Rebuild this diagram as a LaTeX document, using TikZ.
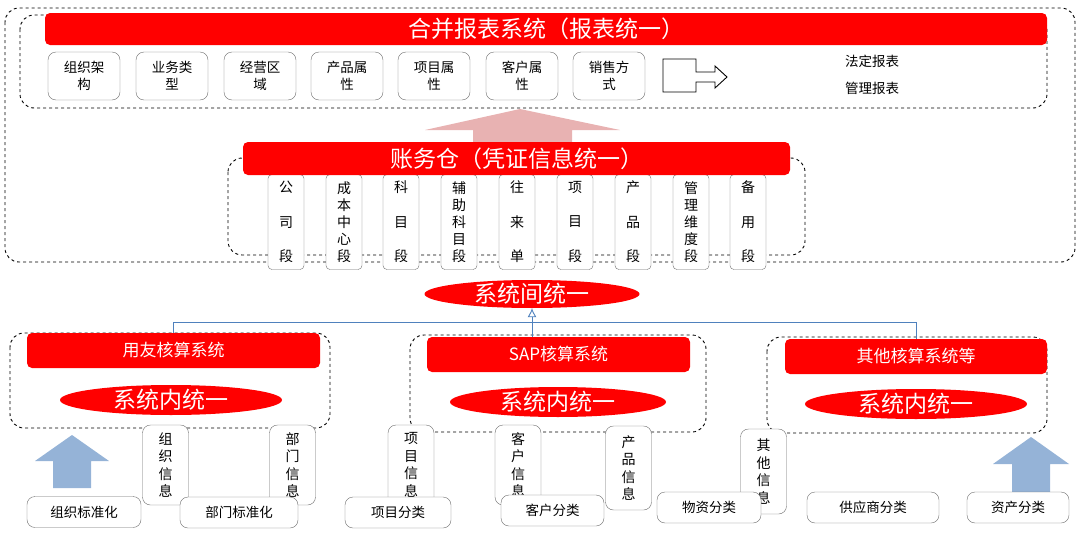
\documentclass[tikz,border=0pt]{standalone}
\usepackage{fontspec}
\setmainfont{Noto Sans CJK SC}
\usepackage{tikz}
\usetikzlibrary{shapes.geometric, arrows.meta}
\usepackage{xcolor}
\definecolor{barred}{RGB}{255,0,0}
\definecolor{boxgray}{RGB}{110,110,110}
\definecolor{lineblue}{RGB}{79,129,189}
\definecolor{arrowblue}{RGB}{149,179,215}
\definecolor{arrowpink}{RGB}{232,178,178}

\begin{document}
\begin{tikzpicture}[x=1pt, y=-1pt,
        dashbox/.style={draw, dashed, rounded corners=14pt, line width=0.9pt},
        redbar/.style={fill=barred, rounded corners=5pt, text=white, inner sep=0pt},
        redoval/.style={ellipse, fill=barred, text=white, inner sep=0pt, text height=17.4pt, text depth=0pt, font=\fontsize{23}{26}\selectfont},
        attrbox/.style={draw=boxgray, fill=white, rounded corners=8pt, minimum width=72pt, minimum height=48pt, inner sep=0pt, align=center, font=\fontsize{13.5}{17}\selectfont},
        segbox/.style={draw=boxgray, fill=white, rounded corners=4pt, minimum width=36pt, minimum height=95pt, inner sep=0pt, align=center},
        segthree/.style={segbox, font=\fontsize{14}{34.5}\selectfont},
        segfive/.style={segbox, font=\fontsize{14}{17}\selectfont},
        infobox/.style={draw=boxgray, fill=white, rounded corners=8pt, minimum width=46pt, minimum height=80pt, inner sep=0pt, align=center, font=\fontsize{14}{17.5}\selectfont},
        classbox/.style={draw=boxgray, fill=white, rounded corners=8pt, minimum height=31pt, inner sep=0pt, font=\fontsize{13.5}{16}\selectfont},
        blueline/.style={draw=lineblue, line width=0.9pt}]
    \useasboundingbox (0,0) rectangle (1080,533);

    % upper part
    \draw[dashbox] (5,8) rectangle (1075,262);
    \draw[dashbox] (20,15) rectangle (1047,108);
    \fill[arrowpink] (473,142) -- (473,130) -- (425,130) -- (520,109) -- (620,130) -- (572,130) -- (572,142) -- cycle;
    \draw[dashbox] (228,158) rectangle (805,255);

    \node[segthree] (seg1) at (286,222) {公\\司\\段};
    \node[segfive] (seg2) at (344,222) {成\\本\\中\\心\\段};
    \node[segthree] (seg3) at (401,222) {科\\目\\段};
    \node[segfive] (seg4) at (459,222) {辅\\助\\科\\目\\段};
    \node[segthree] (seg5) at (517,222) {往\\来\\单};
    \node[segthree] (seg6) at (575,222) {项\\目\\段};
    \node[segthree] (seg7) at (633,222) {产\\品\\段};
    \node[segfive] (seg8) at (691,222) {管\\理\\维\\度\\段};
    \node[segthree] (seg9) at (748,222) {备\\用\\段};

    \node[redbar, minimum width=547pt, minimum height=33pt, font=\fontsize{23}{26}\selectfont] (ledger) at (516.5,158.5) {账务仓（凭证信息统一）};
    \node[redbar, minimum width=1002pt, minimum height=32pt, font=\fontsize{23}{26}\selectfont] (report) at (546,29) {合并报表系统（报表统一）};

    \node[attrbox] (attr1) at (84,76) {组织架\\构};
    \node[attrbox] (attr2) at (172,76) {业务类\\型};
    \node[attrbox] (attr3) at (260,76) {经营区\\域};
    \node[attrbox] (attr4) at (347,76) {产品属\\性};
    \node[attrbox] (attr5) at (434,76) {项目属\\性};
    \node[attrbox] (attr6) at (522,76) {客户属\\性};
    \node[attrbox] (attr7) at (609,76) {销售方\\式};

    \draw[line width=0.9pt] (663,59) -- (696,59) -- (696,72) -- (715,72) -- (715,66) -- (727,77)
        -- (715,88) -- (715,82) -- (696,82) -- (696,92) -- (663,92) -- cycle;
    \node[font=\fontsize{13.5}{16}\selectfont] (legal) at (872,61) {法定报表};
    \node[font=\fontsize{13.5}{16}\selectfont] (mgmt) at (872,88) {管理报表};

    % lower part
    \node[redoval, minimum width=215pt, minimum height=28pt] (inter) at (532,294) {系统间统一};

    \draw[dashbox] (10,333) rectangle (330,428);
    \draw[dashbox] (410,335) rectangle (706,432);
    \draw[dashbox] (767,337) rectangle (1047,433);

    \node[redbar, minimum width=293pt, minimum height=35pt, font=\fontsize{17}{20}\selectfont] (yonyou) at (173.5,350.5) {用友核算系统};
    \node[redbar, minimum width=263pt, minimum height=35pt, font=\fontsize{17}{20}\selectfont] (sap) at (558.5,354.5) {SAP核算系统};
    \node[redbar, minimum width=262pt, minimum height=35pt, font=\fontsize{17}{20}\selectfont] (other) at (916,356.5) {其他核算系统等};

    \node[redoval, minimum width=222pt, minimum height=30pt] (intra1) at (171,400) {系统内统一};
    \node[redoval, minimum width=216pt, minimum height=30pt] (intra2) at (558,402) {系统内统一};
    \node[redoval, minimum width=222pt, minimum height=30pt] (intra3) at (916,404) {系统内统一};

    \draw[blueline] (yonyou.north) -- ++(0,-10) -| (other.north);
    \draw[blueline, -{Latex[open, length=9pt, width=9pt]}] (inter.south |- sap.north) -- (inter.south);

    \node[infobox] (info1) at (165.5,465) {组\\织\\信\\息};
    \node[infobox] (info2) at (292.5,465) {部\\门\\信\\息};
    \node[infobox] (info3) at (411,465) {项\\目\\信\\息};
    \node[infobox] (info4) at (518,465) {客\\户\\信\\息};
    \node[infobox, minimum height=84pt] (info5) at (628.5,468) {产\\品\\信\\息};
    \node[infobox, minimum height=85pt] (info6) at (763.5,471.5) {其\\他\\信\\息};

    \fill[arrowblue] (53,488) -- (53,461) -- (35,461) -- (72,435) -- (109,461) -- (91,461) -- (91,488) -- cycle;
    \fill[arrowblue] (1012,493) -- (1012,464) -- (993,464) -- (1031,437) -- (1069,464) -- (1050,464) -- (1050,493) -- cycle;

    \node[classbox, minimum width=114pt] (cls1) at (84,512) {组织标准化};
    \node[classbox, minimum width=118pt] (cls2) at (239,512.5) {部门标准化};
    \node[classbox, minimum width=106pt] (cls3) at (398,512.5) {项目分类};
    \node[classbox, minimum width=103pt] (cls4) at (552.5,510.5) {客户分类};
    \node[classbox, minimum width=104pt] (cls5) at (709,507.5) {物资分类};
    \node[classbox, minimum width=132pt] (cls6) at (873,507.5) {供应商分类};
    \node[classbox, minimum width=102pt] (cls7) at (1018,507.5) {资产分类};
\end{tikzpicture}
\end{document}
